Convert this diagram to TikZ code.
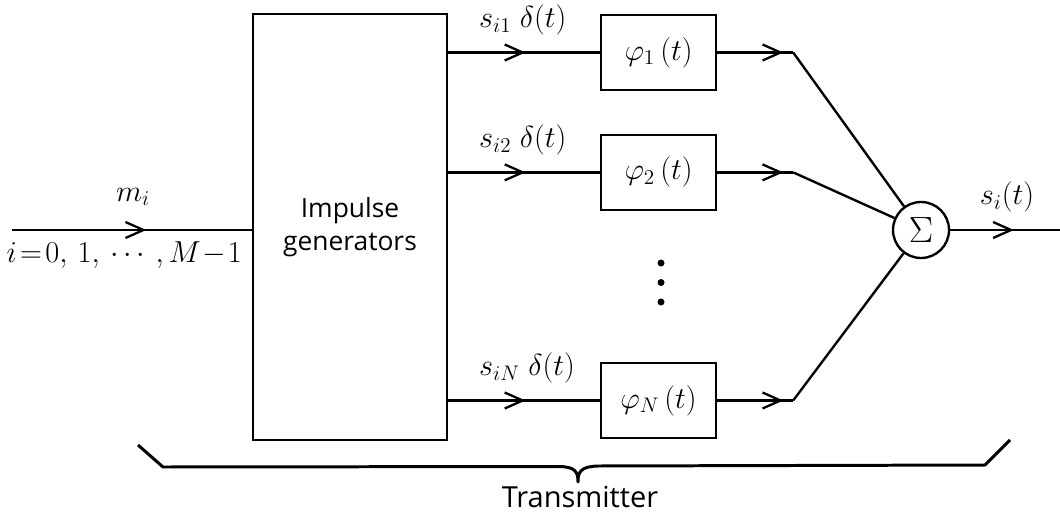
\documentclass[tikz,border=0pt]{standalone}
\usepackage{amsmath}
\usepackage{fontspec}
\newfontfamily\sansblocco{Open Sans}
\usepackage{tikz}
\usetikzlibrary{positioning}
\usetikzlibrary{calc}
\usetikzlibrary{arrows.meta}
\usetikzlibrary{decorations.markings}

\tikzset{
  testo/.style={font=\fontsize{18}{21}\selectfont},
  scritta/.style={font=\fontsize{15}{19}\selectfont\sansblocco},
  blocco/.style={draw, testo, minimum width=2.3cm, minimum height=1.5cm, inner sep=0pt},
  freccia/.style={postaction={decorate}, decoration={markings,
      mark=at position #1 with {\arrow{Straight Barb[length=3.6mm,width=3.2mm,line width=1.3pt]}}}},
  freccia/.default=0.5
}

\begin{document}
\begin{tikzpicture}[line width=1.35pt]
\useasboundingbox (0,0) rectangle (21.2,10.36);
    % Blocchi principali
    \node[draw, scritta, minimum width=3.88cm, minimum height=8.52cm, align=center] (gen) at (7.0,5.82) {Impulse\\generators};
    \node[blocco] (phi1) at (13.17,9.31) {$\varphi_1\,(t)$};
    \node[blocco, below=0.85cm of phi1] (phi2) {$\varphi_2\,(t)$};
    \node[blocco] (phiN) at (13.17,2.35) {$\varphi_N\,(t)$};
    \node[draw, circle, font=\fontsize{22}{24}\selectfont, minimum size=1.12cm, inner sep=0pt] (sum) at (18.42,5.76) {$\Sigma$};
    \foreach \yy in {5.10,4.71,4.32}
      \fill (13.22,\yy) circle (0.07);

    % Ingresso e uscita
    \coordinate (in) at (0.24,5.76);
    \coordinate (out) at (21.2,5.76);
    \draw[freccia=0.56] (in) -- (in -| gen.west);
    \node[testo] (mi) at (2.66,6.42) {$m_i$};
    \node[testo, anchor=north east] (idx) at ($(in -| gen.west)+(-0.06,-0.1)$) {$i\!=\!0,\,1,\,\cdots\,,M\!-\!1$};
    \draw[freccia=0.58] (sum) -- (out);
    \node[testo] (si) at (20.14,6.42) {$s_i(t)$};

    % Rami
    \foreach \ramo/\lab in {1/{s_{i1}}, 2/{s_{i2}}, N/{s_{iN}}} {
      \draw[freccia=0.51] (gen.east |- phi\ramo) -- (phi\ramo.west);
      \coordinate (c\ramo) at ($(phi\ramo.east)+(1.52,0)$);
      \draw[freccia=0.87] (phi\ramo.east) -- (c\ramo);
      \draw (c\ramo) -- (sum);
      \node[testo, anchor=south west] (l\ramo) at ($(gen.east |- phi\ramo)+(0.48,0.2)$) {$\lab\;\delta(t)$};
    }

    % Graffa
    \coordinate (bl) at (2.76,1.46);
    \coordinate (blc) at (3.26,1.02);
    \coordinate (tip) at (11.56,0.72);
    \coordinate (brc) at (19.7,1.06);
    \coordinate (br) at (20.2,1.56);
    \draw[line width=1.7pt, line join=round] (bl) -- (blc) -- ($(tip)+(-0.4,0.31)$)
      .. controls ($(tip)+(-0.05,0.31)$) and ($(tip)+(0,0.2)$) .. (tip)
      .. controls ($(tip)+(0,0.2)$) and ($(tip)+(0.05,0.31)$) .. ($(tip)+(0.4,0.32)$) -- (brc) -- (br);
    \node[scritta, font=\fontsize{16.5}{20}\selectfont\sansblocco] (tx) at (11.6,0.42) {Transmitter};
\end{tikzpicture}
\end{document}
